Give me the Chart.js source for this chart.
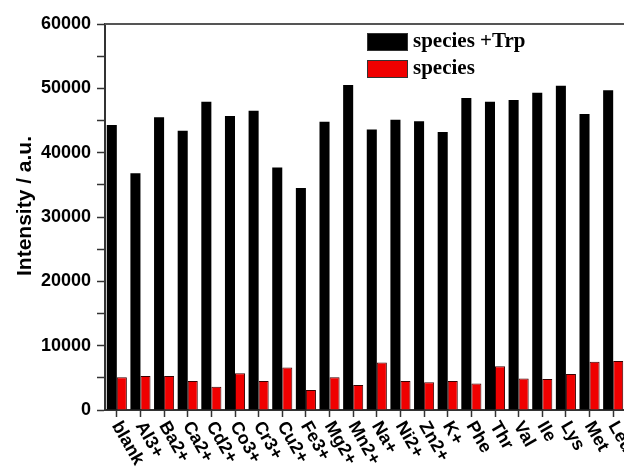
<!DOCTYPE html>
<html lang="en">
<head>
<meta charset="UTF-8">
<title>Intensity by species</title>
<script src="https://cdn.jsdelivr.net/npm/chart.js"></script>
<style>
    html, body {
        margin: 0;
        padding: 0;
        background: #fff;
        overflow: hidden;
    }
    #wrap {
        width: 625px;
        height: 472px;
    }
</style>
</head>
<body>
<div id="wrap">
    <canvas id="intensityChart" width="625" height="472"></canvas>
</div>

<script>
    // values
    const species = ['blank', 'Al3+', 'Ba2+', 'Ca2+', 'Cd2+', 'Co3+', 'Cr3+', 'Cu2+', 'Fe3+', 'Mg2+', 'Mn2+',
        'Na+', 'Ni2+', 'Zn2+', 'K+', 'Phe', 'Thr', 'Val', 'Ile', 'Lys', 'Met', 'Leu'];
    const withTrp = [44300, 36800, 45500, 43400, 47900, 45700, 46500, 37700, 34500, 44800, 50500,
        43600, 45100, 44900, 43200, 48500, 47900, 48200, 49300, 50400, 46000, 49700];
    const speciesOnly = [5100, 5300, 5300, 4500, 3600, 5700, 4500, 6600, 3100, 5100, 3900,
        7400, 4500, 4300, 4500, 4100, 6800, 4900, 4800, 5600, 7500, 7600];
    const seriesNames = ['species +Trp', 'species'];
    const yTicks = [0, 10000, 20000, 30000, 40000, 50000, 60000];
    const yTitle = 'Intensity / a.u.';

    const sansBold = 'bold 18px "Liberation Sans", Arial, sans-serif';

    // rotated category labels, running down to the right from each tick
    const slantLabels = {
        id: 'slantLabels',
        afterDraw(chart) {
            const ctx = chart.ctx;
            const xs = chart.scales.x;
            ctx.save();
            ctx.font = sansBold;
            ctx.fillStyle = '#000';
            ctx.textAlign = 'left';
            ctx.textBaseline = 'middle';
            chart.data.labels.forEach((lab, i) => {
                ctx.save();
                ctx.translate(xs.getPixelForTick(i) - 1, xs.top + 13);
                ctx.rotate(60 * Math.PI / 180);
                ctx.fillText(lab, 0, 0);
                ctx.restore();
            });
            ctx.restore();
        }
    };

    // top frame line, y title and legend inside the plot
    const frameAndKey = {
        id: 'frameAndKey',
        afterDraw(chart) {
            const ctx = chart.ctx;
            const a = chart.chartArea;
            ctx.save();
            ctx.strokeStyle = '#555';
            ctx.lineWidth = 2;
            ctx.beginPath();
            ctx.moveTo(a.left, a.top);
            ctx.lineTo(a.right, a.top);
            ctx.stroke();

            // axis title sits a bit above the middle in the original
            ctx.save();
            ctx.translate(25, 206);
            ctx.rotate(-Math.PI / 2);
            ctx.font = 'bold 21px "Liberation Sans", Arial, sans-serif';
            ctx.fillStyle = '#000';
            ctx.textAlign = 'center';
            ctx.textBaseline = 'middle';
            ctx.fillText(yTitle, 0, 0);
            ctx.restore();

            ctx.font = 'bold 21px "Liberation Serif", "Times New Roman", serif';
            ctx.textBaseline = 'middle';
            chart.data.datasets.forEach((ds, i) => {
                const y = 33 + i * 27;
                ctx.fillStyle = ds.backgroundColor;
                ctx.fillRect(367, y, 41, 18);
                ctx.strokeStyle = '#333';
                ctx.lineWidth = 1;
                ctx.strokeRect(367.5, y + 0.5, 40, 17);
                ctx.fillStyle = '#000';
                ctx.fillText(ds.label, 413, y + 9);
            });
            ctx.restore();
        }
    };

    new Chart(document.getElementById('intensityChart'), {
        type: 'bar',
        data: {
            labels: species,
            datasets: [
                {
                    label: seriesNames[0],
                    data: withTrp,
                    backgroundColor: '#000000',
                    borderWidth: 0
                },
                {
                    label: seriesNames[1],
                    data: speciesOnly,
                    backgroundColor: '#f00000',
                    borderColor: '#3a0000',
                    borderWidth: 1
                }
            ]
        },
        options: {
            responsive: false,
            animation: false,
            devicePixelRatio: 1,
            categoryPercentage: 0.85,
            barPercentage: 1.0,
            layout: { padding: { top: 24, left: 0, right: 0, bottom: 0 } },
            plugins: {
                legend: { display: false },
                tooltip: { enabled: false }
            },
            scales: {
                x: {
                    offset: true,
                    afterFit(s) { s.height = 62; },
                    grid: {
                        offset: false,
                        drawOnChartArea: false,
                        drawTicks: true,
                        tickLength: 7,
                        tickColor: '#333',
                        tickWidth: 1.5
                    },
                    border: { display: true, color: '#333', width: 2 },
                    ticks: { display: false }
                },
                y: {
                    min: 0,
                    max: 60000,
                    afterFit(s) { s.width = 105; },
                    grid: {
                        drawOnChartArea: false,
                        drawTicks: true,
                        tickLength: 8,
                        tickColor: '#333',
                        tickWidth: 1.5
                    },
                    border: { display: true, color: '#333', width: 2 },
                    ticks: {
                        stepSize: 5000,
                        padding: 6,
                        color: '#000',
                        font: { family: '"Liberation Sans", Arial, sans-serif', size: 18, weight: 'bold' },
                        callback: (v) => yTicks.includes(v) ? String(v) : ''
                    }
                }
            }
        },
        plugins: [slantLabels, frameAndKey]
    });
</script>
</body>
</html>
